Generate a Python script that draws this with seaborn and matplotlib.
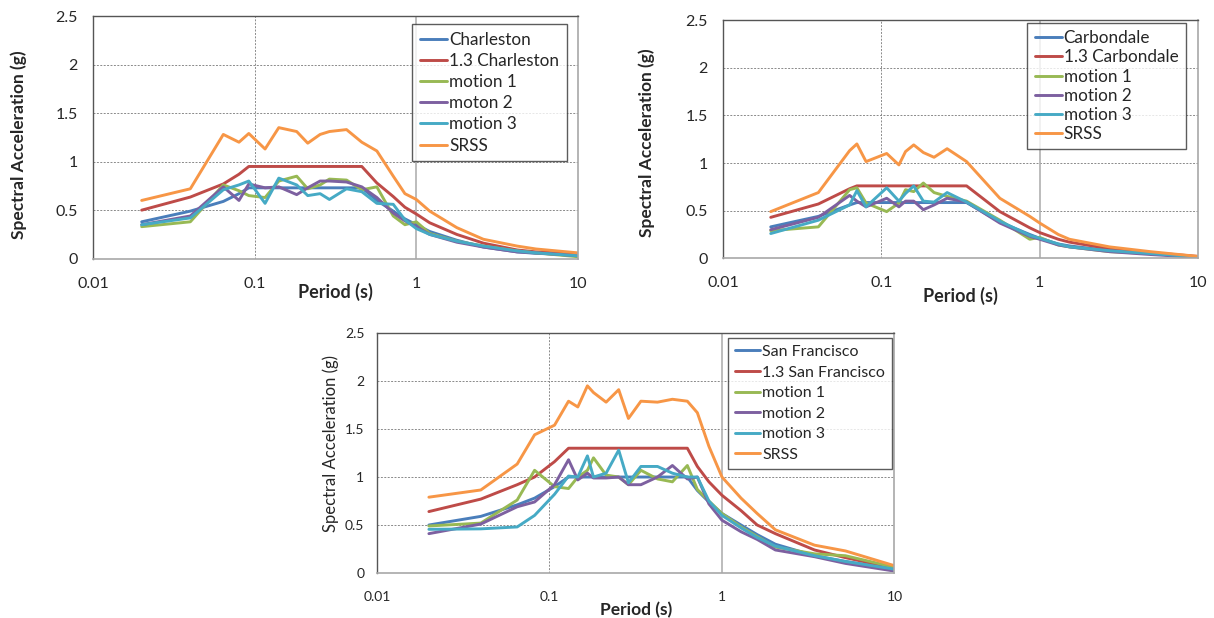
import pandas as pd
import matplotlib
matplotlib.use('Agg')
import matplotlib.pyplot as plt
import seaborn as sns

# Charleston (oben links)
per_ch = [0.02, 0.04, 0.064, 0.08, 0.092, 0.116, 0.141, 0.182, 0.213, 0.254, 0.29, 0.37,
          0.46, 0.57, 0.72, 0.85, 1.0, 1.21, 1.78, 2.6, 4.2, 5.5, 10.0]
ch_target = [0.38, 0.49, 0.59, 0.67, 0.73, 0.73, 0.73, 0.73, 0.73, 0.73, 0.73, 0.73,
             0.73, 0.6, 0.49, 0.41, 0.35, 0.28, 0.19, 0.12, 0.07, 0.055, 0.04]
ch_13 = [0.5, 0.635, 0.77, 0.87, 0.95, 0.95, 0.95, 0.95, 0.95, 0.95, 0.95, 0.95,
         0.95, 0.78, 0.64, 0.53, 0.46, 0.37, 0.25, 0.16, 0.09, 0.07, 0.05]
ch_m1 = [0.33, 0.38, 0.76, 0.7, 0.65, 0.63, 0.8, 0.85, 0.72, 0.76, 0.82, 0.81,
         0.71, 0.74, 0.44, 0.35, 0.38, 0.26, 0.18, 0.13, 0.08, 0.06, 0.02]
ch_m2 = [0.35, 0.44, 0.74, 0.6, 0.77, 0.73, 0.74, 0.66, 0.73, 0.8, 0.8, 0.79,
         0.74, 0.63, 0.47, 0.39, 0.33, 0.25, 0.17, 0.12, 0.07, 0.06, 0.03]
ch_m3 = [0.35, 0.42, 0.71, 0.76, 0.8, 0.57, 0.83, 0.76, 0.65, 0.67, 0.61, 0.72,
         0.69, 0.57, 0.56, 0.4, 0.31, 0.25, 0.18, 0.13, 0.08, 0.06, 0.03]
ch_srss = [0.6, 0.72, 1.28, 1.2, 1.29, 1.13, 1.35, 1.31, 1.19, 1.28, 1.31, 1.33,
           1.2, 1.11, 0.85, 0.67, 0.61, 0.49, 0.32, 0.2, 0.13, 0.1, 0.06]
ch_labels = ['Charleston', '1.3 Charleston', 'motion 1', 'moton 2', 'motion 3', 'SRSS']

# Carbondale (oben rechts)
per_cb = [0.02, 0.04, 0.063, 0.07, 0.08, 0.108, 0.129, 0.142, 0.16, 0.184, 0.215, 0.26,
          0.345, 0.56, 0.865, 1.0, 1.31, 1.54, 2.76, 5.0, 10.0]
cb_target = [0.33, 0.44, 0.56, 0.585, 0.585, 0.585, 0.585, 0.585, 0.585, 0.585, 0.585, 0.585,
             0.585, 0.38, 0.25, 0.21, 0.15, 0.13, 0.08, 0.05, 0.015]
cb_13 = [0.43, 0.57, 0.73, 0.76, 0.76, 0.76, 0.76, 0.76, 0.76, 0.76, 0.76, 0.76,
         0.76, 0.49, 0.32, 0.27, 0.2, 0.17, 0.1, 0.06, 0.02]
cb_m1 = [0.29, 0.33, 0.72, 0.74, 0.58, 0.49, 0.58, 0.72, 0.7, 0.79, 0.69, 0.65,
         0.6, 0.4, 0.2, 0.22, 0.14, 0.12, 0.07, 0.05, 0.015]
cb_m2 = [0.3, 0.43, 0.66, 0.6, 0.54, 0.63, 0.54, 0.6, 0.6, 0.51, 0.56, 0.63,
         0.59, 0.37, 0.23, 0.2, 0.14, 0.12, 0.07, 0.04, 0.01]
cb_m3 = [0.26, 0.4, 0.56, 0.71, 0.54, 0.74, 0.6, 0.68, 0.76, 0.6, 0.59, 0.69,
         0.59, 0.39, 0.24, 0.21, 0.15, 0.12, 0.08, 0.05, 0.015]
cb_srss = [0.49, 0.69, 1.13, 1.2, 1.015, 1.1, 0.98, 1.12, 1.19, 1.11, 1.06, 1.15,
           1.015, 0.63, 0.44, 0.37, 0.25, 0.2, 0.12, 0.07, 0.02]
cb_labels = ['Carbondale', '1.3 Carbondale', 'motion 1', 'motion 2', 'motion 3', 'SRSS']

# San Francisco (unten)
per_sf = [0.02, 0.04, 0.065, 0.082, 0.107, 0.129, 0.146, 0.166, 0.18, 0.213, 0.252, 0.287,
          0.339, 0.423, 0.516, 0.63, 0.72, 0.84, 1.0, 1.29, 1.6, 2.04, 3.44, 5.2, 10.0]
sf_target = [0.5, 0.59, 0.71, 0.78, 0.9, 1.0, 1.0, 1.0, 1.0, 1.0, 1.0, 1.0,
             1.0, 1.0, 1.0, 1.0, 0.86, 0.74, 0.62, 0.5, 0.4, 0.3, 0.18, 0.12, 0.04]
sf_13 = [0.64, 0.77, 0.92, 1.0, 1.16, 1.3, 1.3, 1.3, 1.3, 1.3, 1.3, 1.3,
         1.3, 1.3, 1.3, 1.3, 1.11, 0.95, 0.81, 0.65, 0.5, 0.41, 0.24, 0.16, 0.05]
sf_m1 = [0.49, 0.52, 0.76, 1.07, 0.9, 0.88, 1.0, 1.07, 1.2, 1.02, 1.0, 0.92,
         1.07, 0.98, 0.95, 1.12, 0.87, 0.75, 0.62, 0.48, 0.38, 0.27, 0.2, 0.18, 0.06]
sf_m2 = [0.41, 0.51, 0.69, 0.74, 0.92, 1.18, 0.97, 1.04, 0.99, 0.99, 1.0, 0.92,
         0.92, 1.0, 1.12, 0.98, 1.0, 0.72, 0.55, 0.43, 0.35, 0.24, 0.17, 0.1, 0.02]
sf_m3 = [0.455, 0.46, 0.48, 0.6, 0.82, 1.01, 1.0, 1.22, 1.0, 1.04, 1.28, 0.94,
         1.11, 1.11, 1.04, 1.0, 1.0, 0.75, 0.6, 0.47, 0.37, 0.28, 0.18, 0.12, 0.04]
sf_srss = [0.79, 0.865, 1.135, 1.44, 1.54, 1.79, 1.73, 1.95, 1.88, 1.78, 1.91, 1.61,
           1.79, 1.78, 1.81, 1.79, 1.67, 1.32, 1.0, 0.78, 0.62, 0.45, 0.29, 0.23, 0.076]
sf_labels = ['San Francisco', '1.3 San Francisco', 'motion 1', 'motion 2', 'motion 3', 'SRSS']

x_ticks = [0.01, 0.1, 1, 10]
x_ticklabels = ['0.01', '0.1', '1', '10']
y_ticks = [0, 0.5, 1, 1.5, 2, 2.5]
y_ticklabels = ['0', '0.5', '1', '1.5', '2', '2.5']

colors = ['#4A7EBB', '#BE4B48', '#98B954', '#7D60A0', '#46AAC5', '#F79646']

sns.set_style('white')
plt.rcParams['font.family'] = ['Lato', 'DejaVu Sans']
plt.rcParams['text.color'] = '#262626'
plt.rcParams['xtick.color'] = '#262626'
plt.rcParams['ytick.color'] = '#262626'


def long_df(periods, series, labels):
    rows = []
    for lab, vals in zip(labels, series):
        for p, v in zip(periods, vals):
            rows.append({'period': p, 'sa': v, 'series': lab})
    return pd.DataFrame(rows)


def draw(ax, df, labels, tick_fs, lab_fs, ylab_weight, leg_anchor, leg_fs, leg_space):
    sns.lineplot(data=df, x='period', y='sa', hue='series', hue_order=labels,
                 palette=colors, linewidth=2.1, estimator=None, errorbar=None,
                 sort=False, ax=ax)
    ax.set_xscale('log')
    ax.set_xlim(0.01, 10)
    ax.set_ylim(0, 2.5)
    ax.set_xticks(x_ticks)
    ax.set_xticklabels(x_ticklabels)
    ax.minorticks_off()
    ax.set_yticks(y_ticks)
    ax.set_yticklabels(y_ticklabels)
    ax.tick_params(axis='x', length=4, width=0.8, color='#999999', pad=9, labelsize=tick_fs)
    ax.tick_params(axis='y', length=0, pad=11, labelsize=tick_fs)
    # Gitterlinien
    for yv in y_ticks[1:]:
        ax.axhline(yv, color='#8a8a8a', lw=0.7, ls=(0, (2, 1.5)), zorder=0)
    ax.axvline(0.1, color='#8a8a8a', lw=0.7, ls=(0, (2, 1.5)), zorder=0)
    ax.axvline(1, color='#b0b0b0', lw=1.2, zorder=0)
    for s in ['left', 'top']:
        ax.spines[s].set_color('#555555')
        ax.spines[s].set_linewidth(1.0)
    for s in ['right', 'bottom']:
        ax.spines[s].set_color('#a8a8a8')
        ax.spines[s].set_linewidth(1.2)
    ax.set_xlabel('Period (s)', fontsize=lab_fs + 0.5, fontweight='bold')
    ax.set_ylabel('Spectral Acceleration (g)', fontsize=lab_fs, fontweight=ylab_weight)
    leg = ax.legend(loc='upper right', bbox_to_anchor=leg_anchor,
                    bbox_transform=ax.figure.transFigure, frameon=True, fancybox=False,
                    fontsize=leg_fs, handlelength=1.6, handletextpad=0.1,
                    labelspacing=leg_space, borderpad=0.45, borderaxespad=0)
    leg.get_frame().set_edgecolor('#333333')
    leg.get_frame().set_linewidth(1.0)
    for ln in leg.get_lines():
        ln.set_linewidth(2.1)


fig = plt.figure(figsize=(12.14, 6.18), dpi=100)

ax1 = fig.add_axes([0.0766, 0.5814, 0.3995, 0.3927])
draw(ax1, long_df(per_ch, [ch_target, ch_13, ch_m1, ch_m2, ch_m3, ch_srss], ch_labels),
     ch_labels, 11.5, 12.5, 'bold', (0.4668, 0.9607), 12.3, 0.3)
ax1.xaxis.set_label_coords(0.5, -0.10)
ax1.yaxis.set_label_coords(-0.136, 0.47)

ax2 = fig.add_axes([0.5956, 0.582, 0.3913, 0.3856])
draw(ax2, long_df(per_cb, [cb_target, cb_13, cb_m1, cb_m2, cb_m3, cb_srss], cb_labels),
     cb_labels, 11.5, 12.5, 'bold', (0.977, 0.9633), 12.3, 0.18)
ax2.xaxis.set_label_coords(0.5, -0.12)
ax2.yaxis.set_label_coords(-0.143, 0.484)

ax3 = fig.add_axes([0.3105, 0.0728, 0.4263, 0.3883])
draw(ax3, long_df(per_sf, [sf_target, sf_13, sf_m1, sf_m2, sf_m3, sf_srss], sf_labels),
     sf_labels, 10, 12, 'normal', (0.7348, 0.4536), 11.5, 0.4)
ax3.tick_params(axis='y', pad=9)
ax3.xaxis.set_label_coords(0.5, -0.12)
ax3.yaxis.set_label_coords(-0.073, 0.54)

fig.savefig('out.png', dpi=100)
